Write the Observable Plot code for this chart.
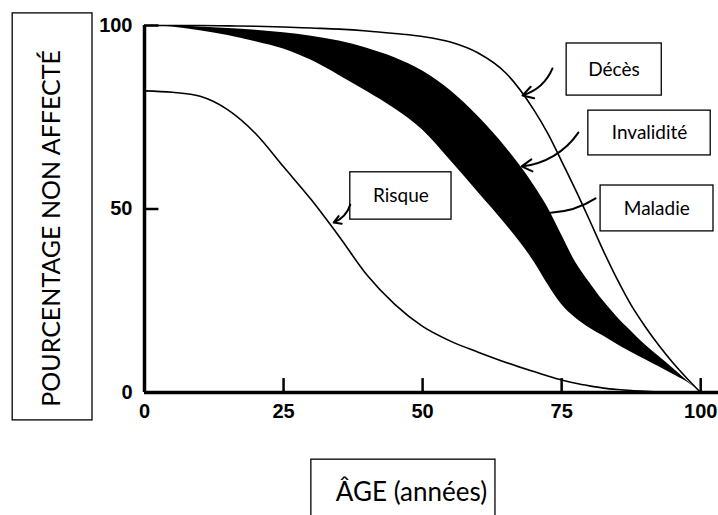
<!DOCTYPE html>
<html><head><meta charset="utf-8">
<script src="https://cdn.jsdelivr.net/npm/d3@7"></script>
<script src="https://cdn.jsdelivr.net/npm/@observablehq/plot@0.6"></script>
<style>body{margin:0;background:#fff} #chart svg{display:block}</style>
</head><body><div id="chart"></div>
<script>
// ---- data ----
const ages       = [0, 5, 10, 15, 20, 25, 30, 35, 40, 45, 50, 55, 60, 65, 70, 72.5, 75, 77.5, 80, 82.5, 85, 87.5, 90, 92.5, 95, 97.5, 100];
const deces      = [100, 100, 100, 99.9, 99.8, 99.6, 99.3, 99, 98.5, 97.8, 97, 95.5, 92.5, 87, 77, 70.6, 63, 55.2, 47, 38.6, 30.8, 23.8, 18, 12.8, 8.1, 3.9, 0];
const invalidite = [100, 99.9, 99.6, 99.2, 98.7, 98, 97.1, 95.8, 93.8, 91.2, 87.6, 82.3, 75.2, 66.7, 56.5, 50.4, 42.9, 35.5, 30, 24.9, 20.5, 16.7, 13, 9.8, 6.6, 3.3, 0];
const maladie    = [100, 99.6, 98.6, 97.3, 95.6, 93.6, 90.5, 86.4, 82, 77.3, 71.5, 63.2, 54.5, 45.7, 35.7, 29.5, 24, 20.3, 17.6, 15.4, 13.1, 11, 9, 7, 5, 2.9, 0];
const risque     = [82.2, 81.8, 80.7, 77, 70.5, 61.5, 52.5, 42.5, 32, 24, 18, 14, 11, 8.2, 5.7, 4.5, 3.4, 2.5, 1.8, 1.2, 0.8, 0.5, 0.3, 0.15, 0.07, 0.02, 0];
const xTicks = [0, 25, 50, 75, 100];
const yTicks = [0, 50, 100];
const labels = ["Décès", "Invalidité", "Maladie", "Risque"];
const yTitle = "POURCENTAGE NON AFFECTÉ";
const xTitle = "ÂGE (années)";

const rows = ages.map((a, i) => ({age: a, deces: deces[i], inv: invalidite[i], mal: maladie[i], risque: risque[i]}));

// ---- annotation layout (in chart coordinates) ----
const boxes = [
  {label: labels[0], x1: 75.9, x2: 93.0, y1: 80.9, y2: 95.1, tx: 84.4, ty: 88.0, ax1: 73.35, ay1: 88.3, ax2: 67.96, ay2: 80.93, head: true},
  {label: labels[1], x1: 79.8, x2: 101.8, y1: 64.6, y2: 76.8, tx: 90.8, ty: 70.7, ax1: 78.0, ay1: 70.8, ax2: 67.8, ay2: 61.6, head: true},
  {label: labels[2], x1: 82.0, x2: 102.3, y1: 43.9, y2: 56.4, tx: 92.1, ty: 50.1, ax1: 81.1, ay1: 52.9, ax2: 73.0, ay2: 49.0, head: false},
  {label: labels[3], x1: 37.0, x2: 55.2, y1: 47.1, y2: 60.0, tx: 46.1, ty: 53.5, ax1: 37.0, ay1: 51.2, ax2: 34.0, ay2: 46.3, head: true}
];
const titles = [
  {text: yTitle, x1: -23.7, x2: -9.35, y1: -7.6, y2: 103.3, tx: -16.7, ty: 44.7, rotate: -90},
  {text: xTitle, x1: 30.0, x2: 63.1, y1: -40, y2: -18.3, tx: 48.0, ty: -27.2, rotate: 0}
];

const labelFont = "Lato, 'Open Sans', sans-serif";

const chart = Plot.plot({
  width: 718, height: 515,
  marginLeft: 144, marginRight: 0, marginTop: 25, marginBottom: 123,
  x: {domain: [0, 103.2]},
  y: {domain: [0, 100]},
  style: {fontFamily: "'Liberation Sans', Arial, sans-serif", background: "white", color: "black"},
  marks: [
    Plot.areaY(rows, {x: "age", y1: "mal", y2: "inv", fill: "black", curve: "monotone-x"}),
    Plot.lineY(rows, {x: "age", y: "deces", stroke: "black", strokeWidth: 1.6, curve: "monotone-x"}),
    Plot.lineY(rows, {x: "age", y: "risque", stroke: "black", strokeWidth: 1.6, curve: "monotone-x"}),
    Plot.ruleX([0], {y1: 0, y2: 100, stroke: "black", strokeWidth: 3.5}),
    Plot.ruleY([0], {x1: 0, x2: 103.2, stroke: "black", strokeWidth: 3.5}),
    Plot.ruleX(xTicks.filter(d => d > 0), {x: d => d, y1: 0, y2: 3.8, stroke: "black", strokeWidth: 2.5}),
    Plot.ruleY(yTicks.filter(d => d > 0), {y: d => d, x1: 0, x2: 2.6, stroke: "black", strokeWidth: 2.5}),
    Plot.axisX(xTicks, {tickSize: 0, tickPadding: 11, fontSize: 20, fontWeight: "bold", label: null}),
    Plot.axisY(yTicks, {tickSize: 0, tickPadding: 12, fontSize: 20, fontWeight: "bold", label: null}),
    // labelled boxes
    Plot.rect(boxes, {x1: "x1", x2: "x2", y1: "y1", y2: "y2", fill: "white", stroke: "black", strokeWidth: 1.3}),
    Plot.text(boxes, {x: "tx", y: "ty", text: "label", fontSize: 19, fontFamily: labelFont, fill: "black"}),
    Plot.arrow(boxes.filter(d => d.head), {x1: "ax1", y1: "ay1", x2: "ax2", y2: "ay2", bend: 25, headLength: 9, strokeWidth: 2, stroke: "black"}),
    Plot.arrow(boxes.filter(d => !d.head), {x1: "ax1", y1: "ay1", x2: "ax2", y2: "ay2", bend: 15, headLength: 0, strokeWidth: 2, stroke: "black"}),
    // axis titles in boxes
    Plot.rect(titles, {x1: "x1", x2: "x2", y1: "y1", y2: "y2", fill: "none", stroke: "black", strokeWidth: 1.3}),
    Plot.text(titles.filter(d => d.rotate), {x: "tx", y: "ty", text: "text", rotate: -90, fontSize: 25, fontFamily: labelFont, fill: "black"}),
    Plot.text(titles.filter(d => !d.rotate), {x: "tx", y: "ty", text: "text", fontSize: 26, fontFamily: labelFont, fill: "black"})
  ]
});
document.getElementById("chart").append(chart);
</script>
</body></html>
